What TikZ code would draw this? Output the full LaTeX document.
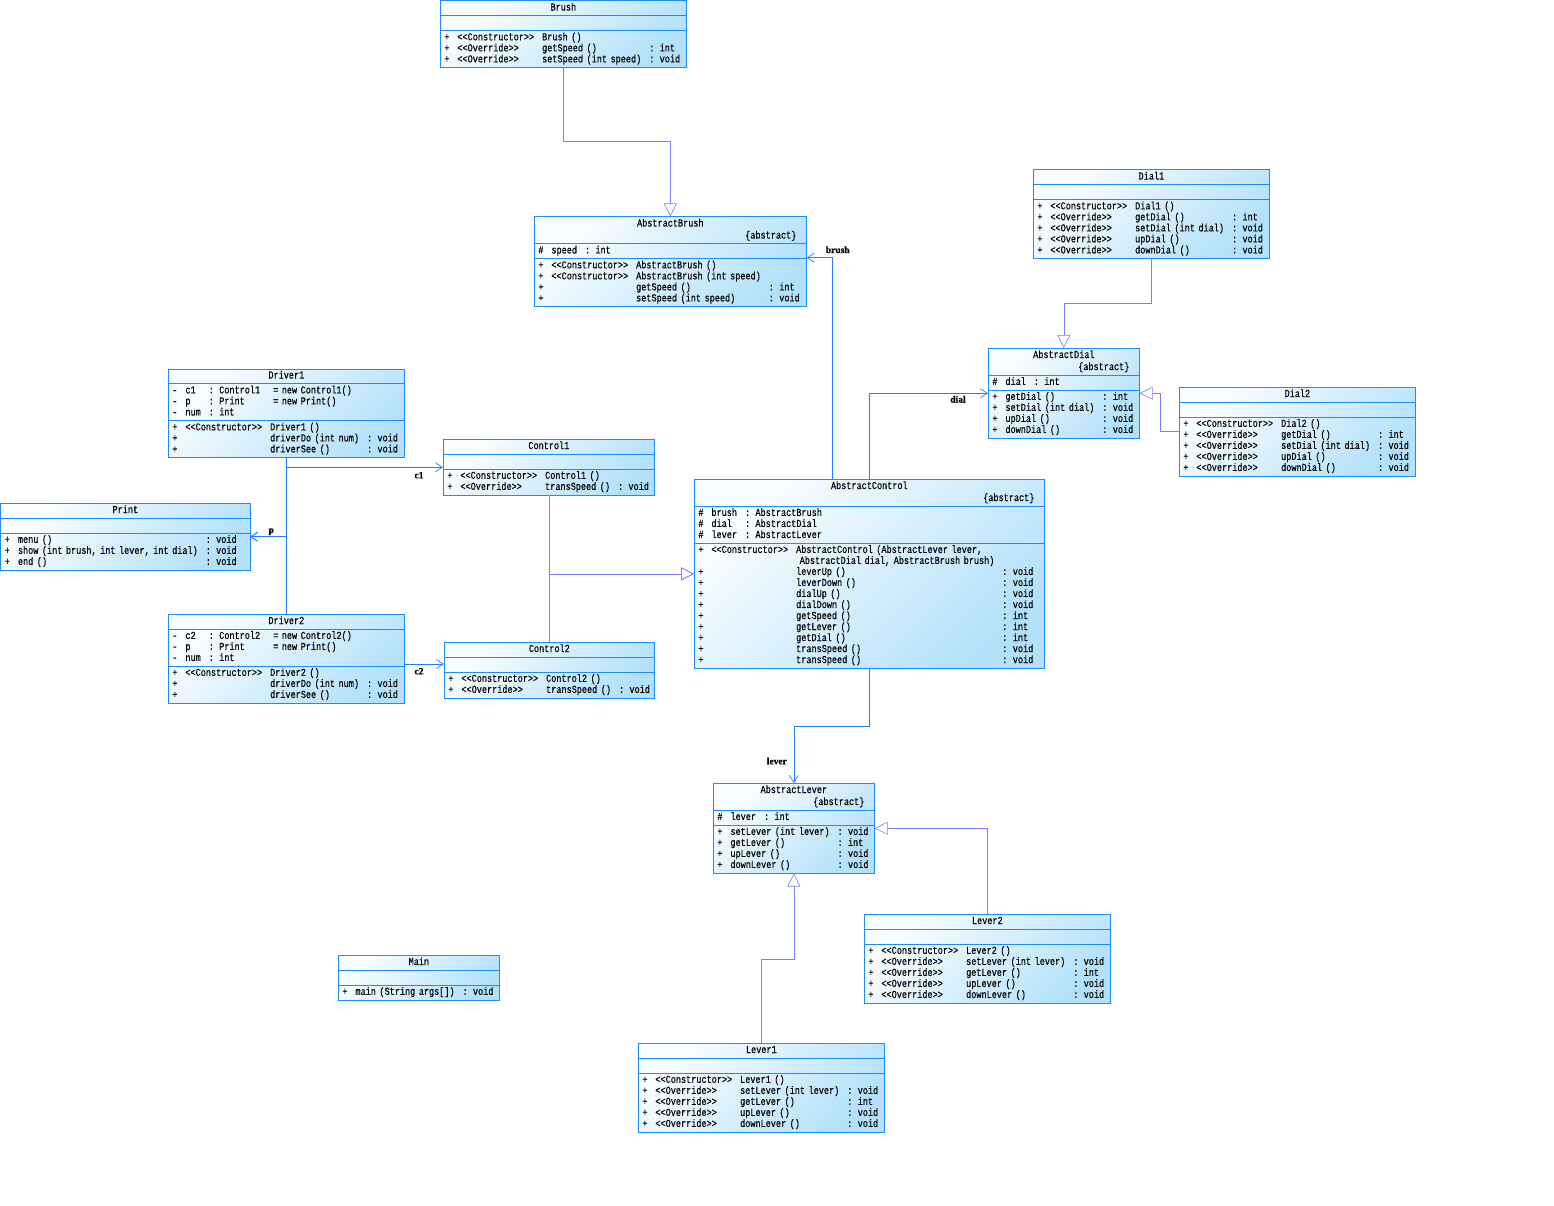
\documentclass[tikz,border=0pt]{standalone}
\usepackage{fontspec}
\newfontfamily\umlfont{Liberation Mono}[Ligatures=TeXOff, FakeStretch=0.8, FakeBold=0.3]
\newfontfamily\rolefont{Liberation Serif}[FakeBold=0.6]
\usetikzlibrary{positioning,calc,shapes.multipart,arrows.meta}
\setlength{\tabcolsep}{4pt}
\setlength{\parindent}{0pt}
\definecolor{umlborder}{HTML}{1E8CF5}
\definecolor{classtop}{HTML}{FAFDFF}
\definecolor{classbot}{HTML}{B3E1FA}
\definecolor{genline}{HTML}{7D7DFF}
\definecolor{assocline}{HTML}{1F7EFF}
\newcommand{\umlsize}{\fontsize{10.65}{11}\selectfont\spaceskip=5.1pt\relax\xspaceskip=5.1pt\relax}
\newcommand{\classtitle}[1]{\makebox[\hsize]{\strut #1}}
\newcommand{\abstractmark}{\par\makebox[\hsize][r]{\strut\{abstract\}\hspace{6pt}}}

\begin{document}
\begin{tikzpicture}[x=1pt, y=-1pt]
\tikzset{
  umlclass/.style={rectangle split, rectangle split parts=3, draw=umlborder, line width=0.7pt,
    top color=classtop, bottom color=classbot, shading angle=45,
    text width=#1, inner xsep=4pt, inner ysep=1.6pt, font=\umlfont\umlsize, align=left, anchor=north west},
  gen/.style={draw=genline, line width=0.6pt, -{Triangle[open, length=13pt, width=13pt]}},
  assoc/.style={draw=assocline, line width=0.7pt, -{Straight Barb[length=7pt, width=9pt]}},
  rolelabel/.style={font=\rolefont\bfseries\fontsize{9.5}{10}\selectfont, inner sep=0pt}
}
\useasboundingbox (0,0) rectangle (1554,1206);

% classes
\node[umlclass=238pt] (brush) at (440,0.5)
  {\classtitle{Brush}
   \nodepart{two}\strut
   \nodepart{three}\begin{tabular}{@{}llll@{}}
     + & <<Constructor>> & Brush () & \\
     + & <<Override>> & getSpeed () & : int\\
     + & <<Override>> & setSpeed (int speed) & : void
   \end{tabular}};

\node[umlclass=264pt] (absbrush) at (534,216.5)
  {\classtitle{AbstractBrush}\abstractmark
   \nodepart{two}\begin{tabular}{@{}lll@{}}
     \# & speed & : int
   \end{tabular}
   \nodepart{three}\begin{tabular}{@{}llll@{}}
     + & <<Constructor>> & AbstractBrush () & \\
     + & <<Constructor>> & AbstractBrush (int speed) & \\
     + & & getSpeed () & : int\\
     + & & setSpeed (int speed) & : void
   \end{tabular}};

\node[umlclass=228pt] (driver1) at (168,368.5)
  {\classtitle{Driver1}
   \nodepart{two}\begin{tabular}{@{}lll@{\hspace{13pt}}l@{}}
     - & c1 & : Control1 & = new Control1()\\
     - & p & : Print & = new Print()\\
     - & num & : int &
   \end{tabular}
   \nodepart{three}\begin{tabular}{@{}llll@{}}
     + & <<Constructor>> & Driver1 () & \\
     + & & driverDo (int num) & : void\\
     + & & driverSee () & : void
   \end{tabular}};

\node[umlclass=241pt] (print) at (0.5,503)
  {\classtitle{Print}
   \nodepart{two}\strut
   \nodepart{three}\begin{tabular}{@{}lll@{}}
     + & menu () & : void\\
     + & show (int brush, int lever, int dial) & : void\\
     + & end () & : void
   \end{tabular}};

\node[umlclass=228pt] (driver2) at (168,614)
  {\classtitle{Driver2}
   \nodepart{two}\begin{tabular}{@{}lll@{\hspace{13pt}}l@{}}
     - & c2 & : Control2 & = new Control2()\\
     - & p & : Print & = new Print()\\
     - & num & : int &
   \end{tabular}
   \nodepart{three}\begin{tabular}{@{}llll@{}}
     + & <<Constructor>> & Driver2 () & \\
     + & & driverDo (int num) & : void\\
     + & & driverSee () & : void
   \end{tabular}};

\node[umlclass=203pt] (control1) at (443,439)
  {\classtitle{Control1}
   \nodepart{two}\strut
   \nodepart{three}\begin{tabular}{@{}llll@{}}
     + & <<Constructor>> & Control1 () & \\
     + & <<Override>> & transSpeed () & : void
   \end{tabular}};

\node[umlclass=202pt] (control2) at (444,642)
  {\classtitle{Control2}
   \nodepart{two}\strut
   \nodepart{three}\begin{tabular}{@{}llll@{}}
     + & <<Constructor>> & Control2 () & \\
     + & <<Override>> & transSpeed () & : void
   \end{tabular}};

\node[umlclass=342pt] (abscontrol) at (694,479)
  {\classtitle{AbstractControl}\abstractmark
   \nodepart{two}\begin{tabular}{@{}lll@{}}
     \# & brush & : AbstractBrush\\
     \# & dial & : AbstractDial\\
     \# & lever & : AbstractLever
   \end{tabular}
   \nodepart{three}\begin{tabular}{@{}llll@{}}
     + & <<Constructor>> & AbstractControl (AbstractLever lever, & \\
       & & ~AbstractDial dial, AbstractBrush brush) & \\
     + & & leverUp () & : void\\
     + & & leverDown () & : void\\
     + & & dialUp () & : void\\
     + & & dialDown () & : void\\
     + & & getSpeed () & : int\\
     + & & getLever () & : int\\
     + & & getDial () & : int\\
     + & & transSpeed () & : void\\
     + & & transSpeed () & : void
   \end{tabular}};

\node[umlclass=228pt] (dial1) at (1033,169.5)
  {\classtitle{Dial1}
   \nodepart{two}\strut
   \nodepart{three}\begin{tabular}{@{}llll@{}}
     + & <<Constructor>> & Dial1 () & \\
     + & <<Override>> & getDial () & : int\\
     + & <<Override>> & setDial (int dial) & : void\\
     + & <<Override>> & upDial () & : void\\
     + & <<Override>> & downDial () & : void
   \end{tabular}};

\node[umlclass=143pt] (absdial) at (988,348)
  {\classtitle{AbstractDial}\abstractmark
   \nodepart{two}\begin{tabular}{@{}lll@{}}
     \# & dial & : int
   \end{tabular}
   \nodepart{three}\begin{tabular}{@{}lll@{}}
     + & getDial () & : int\\
     + & setDial (int dial) & : void\\
     + & upDial () & : void\\
     + & downDial () & : void
   \end{tabular}};

\node[umlclass=228pt] (dial2) at (1179,387)
  {\classtitle{Dial2}
   \nodepart{two}\strut
   \nodepart{three}\begin{tabular}{@{}llll@{}}
     + & <<Constructor>> & Dial2 () & \\
     + & <<Override>> & getDial () & : int\\
     + & <<Override>> & setDial (int dial) & : void\\
     + & <<Override>> & upDial () & : void\\
     + & <<Override>> & downDial () & : void
   \end{tabular}};

\node[umlclass=153pt] (abslever) at (713,783)
  {\classtitle{AbstractLever}\abstractmark
   \nodepart{two}\begin{tabular}{@{}lll@{}}
     \# & lever & : int
   \end{tabular}
   \nodepart{three}\begin{tabular}{@{}lll@{}}
     + & setLever (int lever) & : void\\
     + & getLever () & : int\\
     + & upLever () & : void\\
     + & downLever () & : void
   \end{tabular}};

\node[umlclass=238pt] (lever2) at (864,914)
  {\classtitle{Lever2}
   \nodepart{two}\strut
   \nodepart{three}\begin{tabular}{@{}llll@{}}
     + & <<Constructor>> & Lever2 () & \\
     + & <<Override>> & setLever (int lever) & : void\\
     + & <<Override>> & getLever () & : int\\
     + & <<Override>> & upLever () & : void\\
     + & <<Override>> & downLever () & : void
   \end{tabular}};

\node[umlclass=153pt] (main) at (338,955)
  {\classtitle{Main}
   \nodepart{two}\strut
   \nodepart{three}\begin{tabular}{@{}lll@{}}
     + & main (String args[]) & : void
   \end{tabular}};

\node[umlclass=238pt] (lever1) at (638,1043)
  {\classtitle{Lever1}
   \nodepart{two}\strut
   \nodepart{three}\begin{tabular}{@{}llll@{}}
     + & <<Constructor>> & Lever1 () & \\
     + & <<Override>> & setLever (int lever) & : void\\
     + & <<Override>> & getLever () & : int\\
     + & <<Override>> & upLever () & : void\\
     + & <<Override>> & downLever () & : void
   \end{tabular}};

% generalizations
\draw[gen] (brush.south) -- (brush.south |- 0,141) -| (absbrush.north);
\draw[gen] (dial1.south) -- (dial1.south |- 0,303) -| (absdial.north);
\draw[gen] (dial2.west) -- ++(-19,0) |- (absdial.east);
\draw[gen] (control1.south) |- (abscontrol.west);
\draw[gen] (control2.north) |- (abscontrol.west);
\draw[gen] (lever1.north) -- (lever1.north |- 0,959) -| (abslever.south);
\draw[gen] (lever2.north) |- (abslever.east);

% associations
\coordinate (brushend) at ($(absbrush.east)+(0,-4)$);
\draw[assoc] ($(abscontrol.north)+(-37,0)$) |- (brushend);
\draw[assoc] (abscontrol.north) |- (absdial.west);
\draw[assoc] (abscontrol.south) -- (abscontrol.south |- 0,726) -| (abslever.north);
\draw[assoc] (driver1.south) |- (control1.west);
\draw[assoc] (driver1.south) |- (print.east);
\draw[assoc] (driver2.north) |- (print.east);
\draw[assoc] (driver2.east |- 0,664) -- (control2.west |- 0,664);

\node[rolelabel] (lbrush) at ($(absbrush.east)+(31,-12)$) {brush};
\node[rolelabel] (ldial) at ($(absdial.west)+(-30,6)$) {dial};
\node[rolelabel] (llever) at ($(abslever.north)+(-17,-22)$) {lever};
\node[rolelabel] (lc1) at ($(control1.west)+(-24,8)$) {c1};
\node[rolelabel] (lp) at ($(print.east)+(21,-5)$) {p};
\node[rolelabel] (lc2) at ($(control2.west)+(-25,1)$) {c2};
\end{tikzpicture}
\end{document}
